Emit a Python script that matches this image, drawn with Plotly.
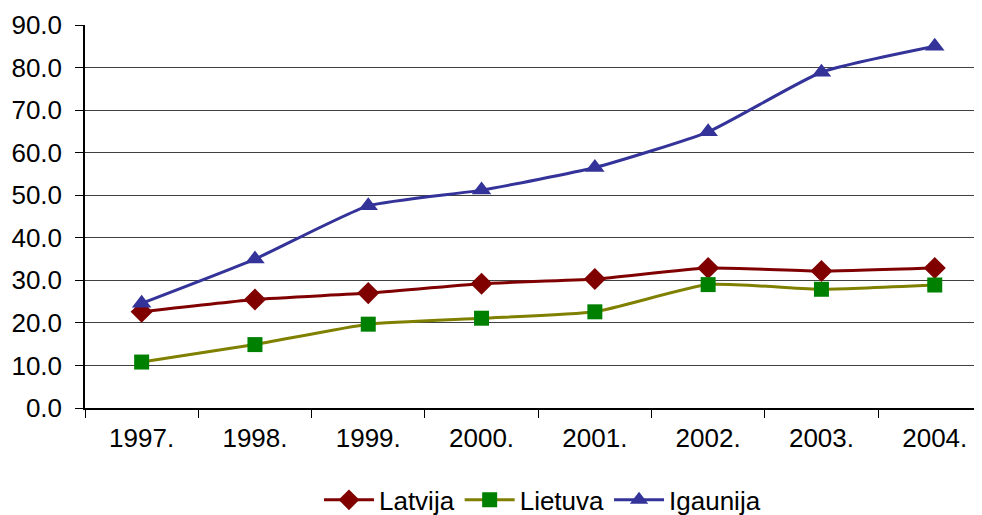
import plotly.graph_objects as go

years = ["1997.", "1998.", "1999.", "2000.", "2001.", "2002.", "2003.", "2004."]
latvija = [22.6, 25.5, 27.0, 29.2, 30.3, 32.9, 32.2, 32.9]
lietuva = [10.8, 14.9, 19.7, 21.1, 22.6, 29.0, 27.9, 28.9]
igaunija = [24.6, 35.0, 47.5, 51.2, 56.5, 64.9, 78.9, 85.0]
y_ticks = [0, 10, 20, 30, 40, 50, 60, 70, 80, 90]

fig = go.Figure()
fig.add_trace(go.Scatter(
    x=years, y=latvija, name="Latvija", mode="lines+markers",
    line=dict(color="#800000", width=3, shape="spline", smoothing=0.5),
    marker=dict(symbol="diamond", size=17, color="#800000")))
fig.add_trace(go.Scatter(
    x=years, y=lietuva, name="Lietuva", mode="lines+markers",
    line=dict(color="#808000", width=3, shape="spline", smoothing=0.5),
    marker=dict(symbol="square", size=15, color="#008000")))
fig.add_trace(go.Scatter(
    x=years, y=igaunija, name="Igaunija", mode="lines+markers",
    line=dict(color="#333399", width=3, shape="spline", smoothing=0.5),
    marker=dict(symbol="triangle-up", size=17, color="#333399")))

font = "Liberation Sans, Arial, sans-serif"
fig.update_layout(
    width=982, height=515,
    margin=dict(l=77, r=8, t=17, b=115, autoexpand=False),
    paper_bgcolor="white", plot_bgcolor="white",
    font=dict(family=font, size=26, color="black"),
    showlegend=True,
    legend=dict(orientation="h", x=0.51, xanchor="center", y=-0.24, yanchor="middle",
                font=dict(size=26), itemwidth=50, tracegroupgap=0),
)
fig.update_xaxes(
    type="category", range=[-0.5, 7.417], automargin=False,
    showgrid=False, showline=True, linecolor="black", linewidth=1.5,
    ticks="outside", tickson="boundaries", ticklen=8, tickcolor="black",
    ticklabelstandoff=6, tickfont=dict(size=26),
)
fig.update_yaxes(
    range=[0, 90], tickvals=y_ticks, tickformat=".1f", automargin=False,
    showgrid=True, gridcolor="#404040", gridwidth=1,
    showline=True, linecolor="black", linewidth=1.5,
    ticks="outside", ticklen=8, tickcolor="black",
    ticklabelstandoff=8, tickfont=dict(size=26), zeroline=False,
)
fig.write_html("out.html")
